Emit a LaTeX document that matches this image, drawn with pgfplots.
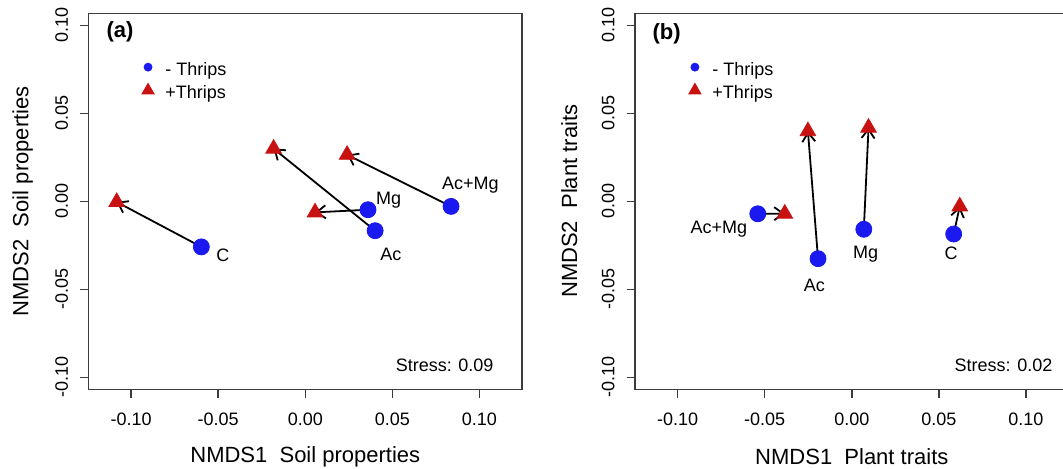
\documentclass[border=0pt]{standalone}
\usepackage{pgfplots}
\pgfplotsset{compat=1.18}
\usepackage{fontspec}
\setmainfont{Liberation Sans}
\usetikzlibrary{arrows.meta}
\definecolor{myblue}{RGB}{25,25,240}
\definecolor{myred}{RGB}{200,18,18}
\definecolor{axgray}{RGB}{60,60,60}
\newcommand{\tf}{\fontsize{9}{10.8}\selectfont}
\newcommand{\lf}{\fontsize{11}{13}\selectfont}
\pgfplotsset{
  rstyle/.style={
    scale only axis, width=216.8pt, height=188pt,
    xmin=-0.1245, xmax=0.1245, ymin=-0.1068, ymax=0.1068,
    xtick={-0.1,-0.05,0,0.05,0.1}, ytick={-0.1,-0.05,0,0.05,0.1},
    xticklabels={-0.10,-0.05,0.00,0.05,0.10},
    yticklabels={-0.10,-0.05,0.00,0.05,0.10},
    tick align=outside, xtick pos=bottom, ytick pos=left,
    major tick length=4.2pt,
    axis line style={axgray, line width=0.75pt},
    tick style={axgray, line width=0.75pt},
    xticklabel style={font=\tf, yshift=-4pt},
    yticklabel style={font=\tf, xshift=-2.5pt, rotate=90, anchor=south},
    clip=false,
  },
  pblue/.style={only marks, mark=*, mark size=4pt, color=myblue},
  pred/.style={only marks, mark=triangle*, mark size=4.5pt, color=myred},
  arr/.style={black, line width=0.9pt, -{Straight Barb[length=4.5pt,width=6.5pt]}},
}
\begin{document}
\begin{tikzpicture}
% ---------------- Panel (a)
\begin{axis}[rstyle, at={(44.25pt,39.85pt)}, anchor=south west]
\addplot[pblue] coordinates {(-0.0597,-0.0259) (0.0401,-0.0167) (0.0360,-0.0048) (0.0837,-0.0029)};
\addplot[pred] coordinates {(-0.1083,-0.0004) (-0.0182,0.0299) (0.0056,-0.0063) (0.0240,0.0264)};
\addplot[arr] coordinates {(-0.0597,-0.0259) (-0.1083,-0.0004)};
\addplot[arr] coordinates {(0.0401,-0.0167) (-0.0182,0.0299)};
\addplot[arr] coordinates {(0.0360,-0.0048) (0.0056,-0.0063)};
\addplot[arr] coordinates {(0.0837,-0.0029) (0.0240,0.0264)};
% legend
\addplot[only marks, mark=*, mark size=2pt, color=myblue] coordinates {(-0.0903,0.0762)};
\addplot[only marks, mark=triangle*, mark size=3.5pt, color=myred] coordinates {(-0.0903,0.0630)};
\node[anchor=west, inner sep=0pt, font=\tf] at (axis cs:-0.0806,0.0742) {- Thrips};
\node[anchor=west, inner sep=0pt, font=\tf] at (axis cs:-0.0806,0.0612) {+Thrips};
\node[font=\bfseries\lf] at (axis cs:-0.1064,0.0964) {(a)};
\node[anchor=east, inner sep=0pt, font=\tf] at (axis cs:0.1083,-0.0933) {Stress: 0.09};
\node[font=\tf] at (axis cs:-0.0473,-0.0305) {C};
\node[font=\tf] at (axis cs:0.0492,-0.0301) {Ac};
\node[font=\tf] at (axis cs:0.0479,0.0005) {Mg};
\node[font=\tf] at (axis cs:0.0948,0.0090) {Ac+Mg};
\node[font=\lf, yshift=-33.7pt] at (rel axis cs:0.5,0) {NMDS1\ \ Soil properties};
\node[font=\lf, xshift=-32.9pt, rotate=90] at (rel axis cs:0,0.5) {NMDS2\ \ Soil properties};
\end{axis}
% ---------------- Panel (b)
\begin{axis}[rstyle, at={(317.5pt,39.85pt)}, anchor=south west]
\addplot[pblue] coordinates {(-0.0540,-0.0071) (-0.0194,-0.0326) (0.0069,-0.0159) (0.0585,-0.0186)};
\addplot[pred] coordinates {(-0.0385,-0.0070) (-0.0252,0.0398) (0.0096,0.0418) (0.0620,-0.0029)};
\addplot[arr] coordinates {(-0.0540,-0.0071) (-0.0385,-0.0070)};
\addplot[arr] coordinates {(-0.0194,-0.0326) (-0.0252,0.0398)};
\addplot[arr] coordinates {(0.0069,-0.0159) (0.0096,0.0418)};
\addplot[arr] coordinates {(0.0585,-0.0186) (0.0620,-0.0029)};
% legend
\addplot[only marks, mark=*, mark size=2pt, color=myblue] coordinates {(-0.0901,0.0762)};
\addplot[only marks, mark=triangle*, mark size=3.5pt, color=myred] coordinates {(-0.0901,0.0630)};
\node[anchor=west, inner sep=0pt, font=\tf] at (axis cs:-0.0803,0.0742) {- Thrips};
\node[anchor=west, inner sep=0pt, font=\tf] at (axis cs:-0.0803,0.0612) {+Thrips};
\node[font=\bfseries\lf] at (axis cs:-0.1063,0.0954) {(b)};
\node[anchor=east, inner sep=0pt, font=\tf] at (axis cs:0.1154,-0.0933) {Stress: 0.02};
\node[font=\tf] at (axis cs:-0.0764,-0.0160) {Ac+Mg};
\node[font=\tf] at (axis cs:-0.0215,-0.0475) {Ac};
\node[font=\tf] at (axis cs:0.0079,-0.0300) {Mg};
\node[font=\tf] at (axis cs:0.0570,-0.0297) {C};
\node[font=\lf, yshift=-33.7pt] at (rel axis cs:0.5,0) {NMDS1\ \ Plant traits};
\node[font=\lf, xshift=-32.9pt, rotate=90] at (rel axis cs:0,0.5) {NMDS2\ \ Plant traits};
\end{axis}
\pgfresetboundingbox
\useasboundingbox (0,0) rectangle (531.5pt,234.5pt);
\end{tikzpicture}
\end{document}
